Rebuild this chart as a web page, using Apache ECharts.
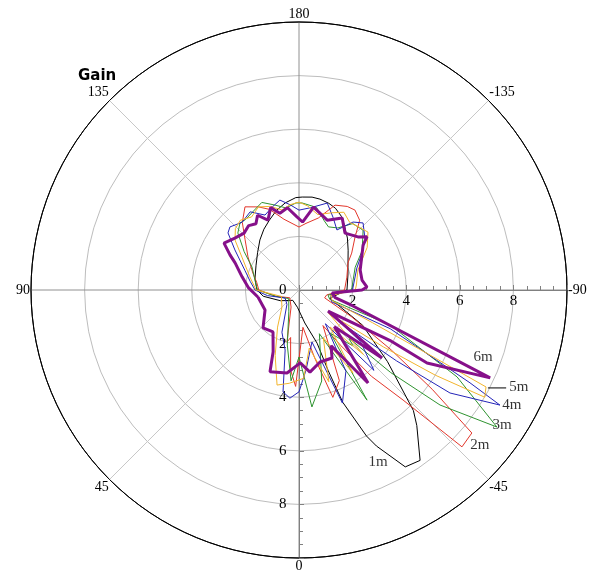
<!DOCTYPE html>
<html>
<head>
<meta charset="utf-8">
<script src="https://cdn.jsdelivr.net/npm/echarts@6/dist/echarts.min.js"></script>
<style>
html, body { margin: 0; padding: 0; background: #fff; }
#chart { width: 596px; height: 573px; }
</style>
</head>
<body>
<div id="chart"></div>
<script>
// [angle (deg), gain] in drawing order, upper lobe first then lower half
var gain1m = [[90,1.57],[105,1.7],[120,1.85],[132,2.08],[142,2.37],[150,2.62],[157,2.83],[164,3.08],[171,3.29],[178,3.45],
    [-178,3.47],[-172,3.5],[-167,3.48],[-161,3.42],[-156,3.34],[-150,3.17],[-145,2.95],[-137,2.65],[-129,2.36],[-118,2.07],[-107,1.91],[-90,1.79],
    [-75,1.19],[-61,2.72],[-51,4.25],[-43.5,6.2],[-41,6.7],[-35.4,7.8],[-31,7.7],[-26.4,6.5],[-24.8,6.0],[-21.3,4.5],[-19.9,3.2],[-18.8,2.1],
    [-10,1.25],[5,0.65],[31,0.45],[60,0.8],[80,1.35],[90,1.57]];
var gain2m = [[90,1.5],[100,1.6],[110,1.83],[123,2.27],[133,2.75],[140,3.29],[147,3.7],[154,3.45],[160,3.2],[168,2.7],[174,2.5],[180,2.35],
    [-174,2.5],[-165,2.78],[-157,3.44],[-150,3.6],[-145,3.64],[-139,3.45],[-133,2.85],[-125,2.4],[-119,2.09],[-105,1.85],[-90,1.7],
    [-80,1.05],[-73,1.0],[-63,2.2],[-57,4.1],[-53.3,6.2],[-50.4,8.37],[-46.1,8.44],[-43.4,5.65],[-40,4.2],[-37,2.6],[-34,1.6],[-24,3.7],[-17.5,4.2],
    [-13,2.6],[-6,1.4],[2,3.6],[6,3.0],[10,1.8],[13,2.0],[25,0.7],[50,0.45],[75,0.9],[90,1.5]];
var gain3m = [[90,1.55],[100,1.65],[116,1.95],[125,2.5],[133,3.12],[138.6,3.33],[143,3.3],[150,3.4],[157,3.55],[164,3.3],[171,3.1],[178,3.25],
    [-178,3.25],[-168,3.15],[-160,2.75],[-155,2.6],[-148,2.73],[-141,3.19],[-133,3.27],[-122,2.78],[-112,2.26],[-93,1.98],[-90,1.95],
    [-80,1.1],[-73,1.2],[-69,3.64],[-61.2,6.73],[-55.3,8.98],[-50.8,6.79],[-48,4.6],[-46,2.6],[-44,2.9],[-36,2.0],[-31.7,4.83],[-31,4.05],
    [-25,1.8],[-14,3.5],[-6.3,4.39],[0,2.5],[5,3.4],[12,2.1],[25,0.9],[50,0.5],[75,0.9],[90,1.55]];
var gain4m = [[90,1.64],[100,1.85],[110,2.15],[122,2.82],[128.8,3.4],[132.4,3.49],[140,3.3],[148,3.44],[155.6,3.07],[162,3.25],[168,3.43],[174,3.2],[180,2.98],
    [-172,3.1],[-162,3.41],[-155,3.0],[-147.7,2.65],[-141.5,3.24],[-136.3,3.46],[-127,3.09],[-118,2.6],[-110.8,2.31],[-93,2.02],[-90,2.0],
    [-80,1.2],[-70,1.3],[-67,3.7],[-61.5,7.26],[-60.2,8.64],[-55.7,6.82],[-54,4.5],[-52,2.0],[-50,3.0],[-43,4.1],[-38,1.6],[-30,3.5],[-21,4.52],
    [-14,2.0],[-5,3.0],[0,3.8],[4.8,4.05],[8.9,3.85],[13,2.3],[22,1.7],[40,0.7],[60,0.6],[80,1.2],[90,1.64]];
var gain5m = [[90,1.6],[105,1.9],[120,2.46],[128,3.03],[134,3.3],[140,3.4],[147,3.25],[154,3.45],[161,3.3],[168,3.05],[174,3.2],[180,3.28],
    [-174,3.15],[-166,2.9],[-157,3.13],[-150,3.35],[-143,3.15],[-136,3.25],[-130,3.36],[-122,3.0],[-108.7,2.32],[-95,2.15],[-90,2.1],
    [-80,1.2],[-72,1.3],[-66,3.0],[-63.5,5.6],[-62.6,7.86],[-60,8.0],[-58,6.0],[-56,3.8],[-52,1.4],[-45,3.4],[-40,1.8],[-33,3.7],[-27,2.0],
    [-18,3.6],[-10,2.2],[-3,3.3],[6,3.5],[13,3.64],[20,2.6],[30,1.6],[45,0.9],[70,0.7],[90,1.6]];
var gain6m = [[80,1.55],[93,1.9],[103,2.18],[113,2.59],[117,2.89],[122,3.3],[129,3.08],[136,2.95],[142,3.05],[147,2.95],[151,3.19],[156,2.85],
    [161,3.25],[166,2.95],[172,3.1],[178,2.75],[-177,2.54],[-170,3.14],[-158,2.81],[-149,3.13],[-141,2.73],[-132,2.96],[-128,3.22],[-125,2.92],
    [-108,2.4],[-99,2.38],[-92.5,2.54],[-90,2.35],[-85,1.24],[-78,1.38],[-73.5,2.1],[-65.3,7.85],[-60.3,5.5],[-61,3.87],[-54,1.34],[-50.7,4.0],
    [-44,1.9],[-36.6,4.32],[-30,2.4],[-25.9,2.82],[-16.3,2.8],[-7.6,3.09],[-1,2.72],[8.2,3.13],[19.5,3.24],[22.7,2.5],[31.8,1.84],[43.5,1.95],
    [59.5,1.47],[80,1.55]];

var seriesNames = ['1m', '2m', '3m', '4m', '5m', '6m'];
var seriesColors = ['#000000', '#e2362b', '#2f9330', '#2424b8', '#f2b42c', '#86108a'];
var seriesWidths = [1, 1, 1, 1, 1, 3];
// label anchor [gain, angle]
var labelPos = [[7.06,-24.7],[8.89,-49.4],[9.1,-56.4],[9.03,-61.6],[8.97,-66.2],[7.31,-70.0]];
var leader5m = [[7.94,-62.6],[8.55,-64.7]];

var allGain = [gain1m, gain2m, gain3m, gain4m, gain5m, gain6m];
var serifFont = '"Liberation Serif", "DejaVu Serif", serif';

var chart = echarts.init(document.getElementById('chart'));

function radiusAxisShown(showZero, margin) {
    return {
        min: 0, max: 10, interval: 2,
        axisLine: { show: true, lineStyle: { color: '#808080', width: 1 } },
        axisTick: { show: true, inside: true, length: 5, lineStyle: { color: '#808080' } },
        minorTick: { show: true, splitNumber: 4, length: 4, lineStyle: { color: '#808080' } },
        axisLabel: {
            margin: margin, color: '#000', fontSize: 15, fontFamily: serifFont,
            formatter: function (v) {
                if (v === 10) return '';
                if (v === 0 && !showZero) return '';
                return v;
            }
        },
        splitLine: { show: false }
    };
}

var series = [];
for (var i = 0; i < allGain.length; i++) {
    series.push({
        name: seriesNames[i],
        type: 'line',
        coordinateSystem: 'polar',
        polarIndex: 0,
        symbol: 'none',
        smooth: false,
        z: 3 + i,
        lineStyle: { color: seriesColors[i], width: seriesWidths[i] },
        data: allGain[i].map(function (p) { return [p[1], p[0]]; })
    });
}
series.push({
    type: 'line', coordinateSystem: 'polar', polarIndex: 0, symbol: 'none', z: 10,
    lineStyle: { color: '#000', width: 1 },
    data: leader5m
});
series.push({
    type: 'scatter', coordinateSystem: 'polar', polarIndex: 0, z: 11,
    symbolSize: 1, itemStyle: { color: 'rgba(0,0,0,0)' },
    label: { show: true, position: 'inside', formatter: '{b}', color: '#000', fontSize: 15, fontFamily: serifFont },
    data: labelPos.map(function (p, i) { return { name: seriesNames[i], value: p }; })
});

var option = {
    animation: false,
    backgroundColor: '#fff',
    title: {
        text: 'Gain', left: 78, top: 69, padding: 0,
        textStyle: { fontFamily: '"DejaVu Sans", sans-serif', fontWeight: 'bold', fontSize: 15, color: '#000' }
    },
    polar: [
        { center: [299, 290], radius: 268 },
        { center: [299, 290], radius: 268 },
        { center: [299, 290], radius: 268 }
    ],
    angleAxis: [{
        polarIndex: 0, type: 'value', min: -180, max: 180, interval: 45,
        startAngle: 90, clockwise: true,
        axisLine: { show: true, lineStyle: { color: '#000', width: 1 } },
        axisTick: { show: false },
        axisLabel: {
            margin: 1, color: '#000', fontSize: 14, fontFamily: serifFont,
            formatter: function (v) { return v === -180 ? '180' : String(v); }
        },
        splitLine: { show: true, lineStyle: { color: ['#909090', '#c8c8c8'], width: 1 } }
    }, {
        polarIndex: 1, type: 'value', min: 0, max: 360, startAngle: 0, show: false
    }, {
        polarIndex: 2, type: 'value', min: 0, max: 360, startAngle: 270, show: false
    }],
    radiusAxis: [
        {
            polarIndex: 0, min: 0, max: 10, interval: 2,
            axisLine: { show: false }, axisTick: { show: false }, axisLabel: { show: false },
            splitLine: { show: true, lineStyle: { color: ['#bdbdbd', '#bdbdbd', '#bdbdbd', '#bdbdbd', '#bdbdbd', '#000'], width: 1 } }
        },
        Object.assign({ polarIndex: 1 }, radiusAxisShown(false, -19)),
        Object.assign({ polarIndex: 2 }, radiusAxisShown(true, -20))
    ],
    series: series
};
chart.setOption(option);
</script>
</body>
</html>
